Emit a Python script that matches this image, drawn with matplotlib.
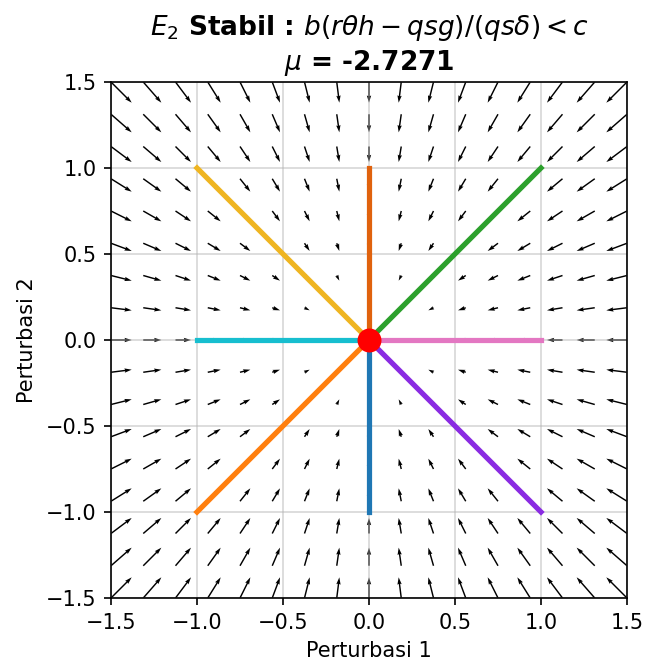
import numpy as np
import matplotlib
matplotlib.use('Agg')
import matplotlib.pyplot as plt

mu = -2.7271
grid_vals = np.linspace(-1.5, 1.5, 17)
# initial perturbations (end points of the straight trajectories)
starts_x = [0, 1, 1, 1, 0, -1, -1, -1]
starts_y = [1, 1, 0, -1, -1, -1, 0, 1]
colors = ['#e0620d', '#2ca02c', '#e377c2', '#8a2be2', '#1f77b4', '#ff7f0e', '#17becf', '#efb521']

fig = plt.figure(figsize=(645/150, 661/150), dpi=150)
ax = fig.add_axes([111/645, 63/661, 516/645, 516/661])

X, Y = np.meshgrid(grid_vals, grid_vals)
U = mu * X
V = mu * Y
ax.quiver(X, Y, U, V, angles='xy', scale_units='xy', scale=34, width=0.0028, color='k')

for x0, y0, c in zip(starts_x, starts_y, colors):
    ax.plot([x0, 0], [y0, 0], color=c, lw=2.5)
ax.plot(0, 0, 'o', color='red', markersize=10.5)

ax.set_xlim(-1.5, 1.5)
ax.set_ylim(-1.5, 1.5)
ax.set_xticks([-1.5, -1.0, -0.5, 0.0, 0.5, 1.0, 1.5])
ax.set_yticks([-1.5, -1.0, -0.5, 0.0, 0.5, 1.0, 1.5])
ax.grid(alpha=0.5)
ax.set_xlabel('Perturbasi 1', fontsize=10)
ax.set_ylabel('Perturbasi 2', fontsize=10)
ax.tick_params(labelsize=10)
ax.set_title(r'$E_2$ Stabil : $b(r\theta h - qsg)/(qs\delta) < c$' + '\n' + r'$\mu$ = -2.7271',
             fontweight='bold', fontsize=12.7)

fig.savefig('out.png', dpi=150)
